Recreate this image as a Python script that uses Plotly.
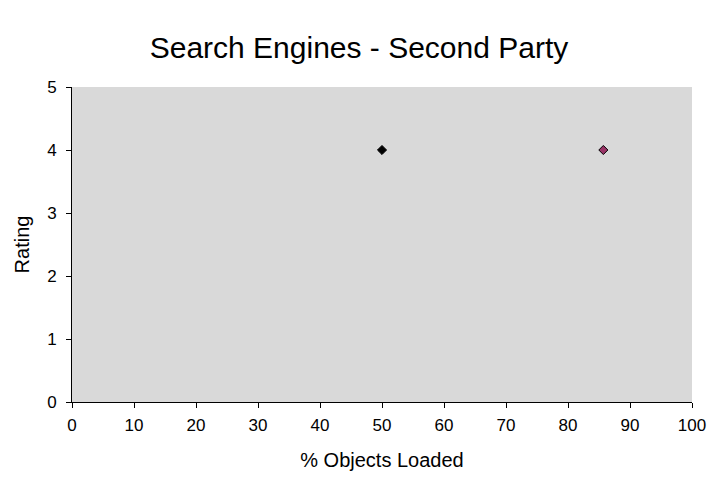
import plotly.graph_objects as go

# Second-party search engine results
objects_loaded = [50.0, 85.7]
ratings = [4, 4]
marker_colors = ["#000000", "#993366"]

x_ticks = list(range(0, 101, 10))
y_ticks = list(range(0, 6))

fig = go.Figure()
for xv, yv, col in zip(objects_loaded, ratings, marker_colors):
    fig.add_trace(go.Scatter(
        x=[xv], y=[yv], mode="markers",
        marker=dict(symbol="diamond", size=7, color=col,
                    line=dict(color="#000000", width=1)),
        showlegend=False,
    ))

fig.update_layout(
    width=718, height=479,
    margin=dict(l=72, r=26, t=87, b=77),
    paper_bgcolor="white",
    plot_bgcolor="#d9d9d9",
    font=dict(family="Liberation Sans, Arial, sans-serif", color="#000000"),
    title=dict(text="Search Engines - Second Party", x=0.5, xanchor="center",
               y=0.9, yanchor="middle", font=dict(size=30)),
)
fig.update_xaxes(
    range=[0, 100], tickvals=x_ticks, ticks="outside", ticklen=5,
    tickcolor="#000", showline=True, linecolor="#000", linewidth=1,
    showgrid=False, zeroline=False, tickfont=dict(size=17),
    ticklabelstandoff=3, automargin=False,
    title=dict(text="% Objects Loaded", font=dict(size=20), standoff=18),
)
fig.update_yaxes(
    range=[0, 5], tickvals=y_ticks, ticks="outside", ticklen=5,
    tickcolor="#000", showline=True, linecolor="#000", linewidth=1,
    showgrid=False, zeroline=False, tickfont=dict(size=17),
    ticklabelstandoff=6, automargin=False,
    title=dict(text="Rating", font=dict(size=20), standoff=12),
)

fig.write_html("out.html")
